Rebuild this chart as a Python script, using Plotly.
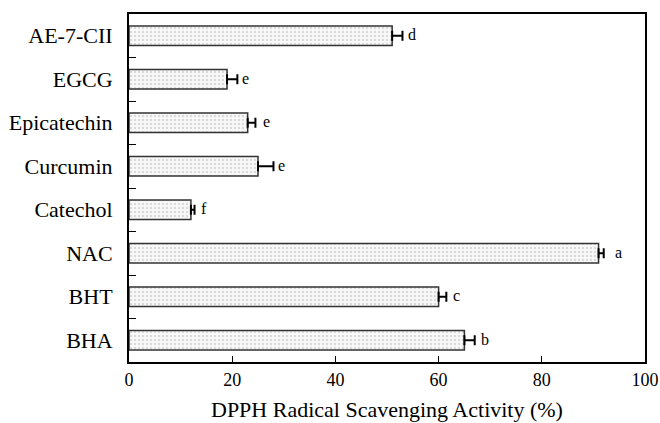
import plotly.graph_objects as go

categories = ["BHA", "BHT", "NAC", "Catechol", "Curcumin", "Epicatechin", "EGCG", "AE-7-CII"]
values = [65, 60, 91, 12, 25, 23, 19, 51]
errors = [2, 1.5, 1, 0.7, 3, 1.5, 2, 2]
letters = ["b", "c", "a", "f", "e", "e", "e", "d"]
letter_gaps = [4, 5, 9, 4, 3, 6, 3, 4]
x_ticks = [0, 20, 40, 60, 80, 100]
x_title = "DPPH Radical Scavenging Activity (%)"

FONT = "Liberation Serif"

fig = go.Figure()
fig.add_trace(go.Bar(
    y=categories, x=values, orientation="h", width=0.45,
    marker=dict(color="white",
                line=dict(color="#333333", width=1.5),
                pattern=dict(shape=".", fgcolor="#a8a8a8", bgcolor="#f7f7f7", size=4, solidity=0.2)),
    error_x=dict(type="data", array=errors, arrayminus=[0]*len(errors), symmetric=False,
                 color="black", thickness=2, width=5),
    showlegend=False,
))

for c, v, e, l, g in zip(categories, values, errors, letters, letter_gaps):
    fig.add_annotation(x=v + e, y=c, text=l, showarrow=False, xanchor="left", xshift=g,
                       yshift=1, font=dict(family=FONT, size=16, color="#000000"))

fig.add_annotation(x=0.5, y=0, xref="paper", yref="paper", yanchor="bottom", yshift=-61,
                   borderpad=0, text=x_title, showarrow=False,
                   font=dict(family=FONT, size=22, color="#000000"))

fig.update_layout(
    width=660, height=423,
    margin=dict(l=129, r=15, t=14, b=61),
    plot_bgcolor="white", paper_bgcolor="white",
    font=dict(family=FONT, color="black"),
)
fig.update_xaxes(range=[0, 100], tickvals=x_ticks, ticks="inside", ticklen=6, tickcolor="black",
                 showline=True, linecolor="black", linewidth=2, mirror=True, showgrid=False,
                 zeroline=False, automargin=False, tickfont=dict(size=18, family=FONT),
                 ticklabelstandoff=0)
fig.update_yaxes(ticks="inside", tickson="boundaries", ticklen=7, tickcolor="black",
                 showline=True, linecolor="black", linewidth=2, mirror=True, showgrid=False,
                 automargin=False, tickfont=dict(size=22, family=FONT), ticklabelstandoff=10)

fig.write_html("out.html")
